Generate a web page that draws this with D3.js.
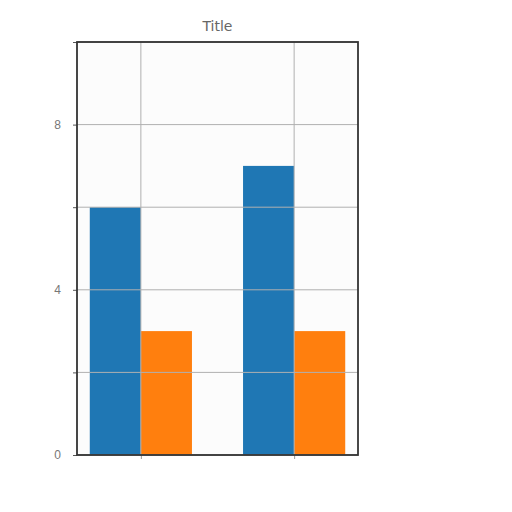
<!DOCTYPE html>
<html>
<head>
<meta charset="utf-8">
<script src="https://cdn.jsdelivr.net/npm/d3@7"></script>
<style>
  body { margin: 0; background: #fff; }
  svg { display: block; font-family: "DejaVu Sans", sans-serif; }
</style>
</head>
<body>
<svg id="chart" width="512" height="512"></svg>
<script>
// ── Data ────────────────────────────────────────────────────────
const categories = [0, 1];
const seriesA = [6, 7];   // blue
const seriesB = [3, 3];   // orange
const yTicks = [0, 2, 4, 6, 8, 10];
const yLabels = { 0: '0', 4: '4', 8: '8' };

const m = { left: 77, right: 358, top: 42, bottom: 455 };
const svg = d3.select('#chart');

const x = d3.scaleLinear().domain([-0.4167, 1.4167]).range([m.left, m.right]);
const y = d3.scaleLinear().domain([0, 10]).range([m.bottom, m.top]);
const bw = 1 / 3;

// plot background
svg.append('rect')
  .attr('x', m.left).attr('y', m.top)
  .attr('width', m.right - m.left).attr('height', m.bottom - m.top)
  .attr('fill', '#fcfcfc');

// Bars
svg.append('g').selectAll('rect').data(categories).join('rect')
  .attr('x', d => x(d - bw)).attr('width', d => x(d) - x(d - bw))
  .attr('y', (d, i) => y(seriesA[i])).attr('height', (d, i) => y(0) - y(seriesA[i]))
  .attr('fill', '#1f77b4');
svg.append('g').selectAll('rect').data(categories).join('rect')
  .attr('x', d => x(d)).attr('width', d => x(d + bw) - x(d))
  .attr('y', (d, i) => y(seriesB[i])).attr('height', (d, i) => y(0) - y(seriesB[i]))
  .attr('fill', '#ff7f0e');

// Grid (drawn over bars)
const grid = svg.append('g').attr('stroke', '#b0b0b0').attr('stroke-width', 1);
grid.selectAll('.gy').data(yTicks).join('line')
  .attr('x1', m.left).attr('x2', m.right)
  .attr('y1', d => y(d)).attr('y2', d => y(d));
grid.selectAll('.gx').data(categories).join('line')
  .attr('x1', d => x(d)).attr('x2', d => x(d))
  .attr('y1', m.top).attr('y2', m.bottom);

// Y axis
const yAxis = d3.axisLeft(y).tickValues(yTicks).tickSize(4).tickPadding(12)
  .tickFormat(d => yLabels[d] || '');
const gy = svg.append('g').attr('transform', `translate(${m.left},0)`).call(yAxis);
gy.select('.domain').remove();
gy.selectAll('line').attr('stroke', '#555');
gy.selectAll('text').attr('fill', '#777').style('font-size', '12px');

// X axis ticks (no labels)
const xAxis = d3.axisBottom(x).tickValues(categories).tickSize(4).tickFormat('');
const gx = svg.append('g').attr('transform', `translate(0,${m.bottom})`).call(xAxis);
gx.select('.domain').remove();
gx.selectAll('line').attr('stroke', '#999');

// Frame
svg.append('rect')
  .attr('x', m.left).attr('y', m.top)
  .attr('width', m.right - m.left).attr('height', m.bottom - m.top)
  .attr('fill', 'none').attr('stroke', '#333').attr('stroke-width', 1.8);

// Title
svg.append('text')
  .attr('x', (m.left + m.right) / 2).attr('y', 31)
  .attr('text-anchor', 'middle')
  .attr('fill', '#666').style('font-size', '14px')
  .text('Title');
</script>
</body>
</html>
